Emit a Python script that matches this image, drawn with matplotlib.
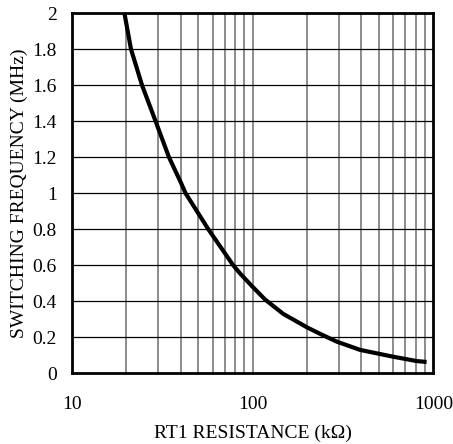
import matplotlib
matplotlib.use("Agg")
import matplotlib.pyplot as plt
from matplotlib.ticker import FixedLocator, NullFormatter, FixedFormatter

plt.rcParams['font.family'] = ['Liberation Serif', 'DejaVu Serif']

# Data (RT1 in kOhm, frequency in MHz)
rt1_kohm = [19.5, 21.2, 24.4, 29.0, 34.4, 40.0, 42.5, 56.8, 78.0, 85.2, 100.0, 117.0,
            147.6, 200.0, 235.0, 292.0, 393.0, 600.0, 808.0, 918.0]
freq_mhz = [2.0, 1.8, 1.6, 1.4, 1.2, 1.06, 1.0, 0.8, 0.6, 0.554, 0.48, 0.41,
            0.33, 0.255, 0.22, 0.176, 0.13, 0.092, 0.068, 0.063]

x_ticks = [10, 100, 1000]
x_tick_labels = ["10", "100", "1000"]
y_ticks = [0, 0.2, 0.4, 0.6, 0.8, 1, 1.2, 1.4, 1.6, 1.8, 2]
y_tick_labels = ["0", "0.2", "0.4", "0.6", "0.8", "1", "1.2", "1.4", "1.6", "1.8", "2"]

fig = plt.figure(figsize=(4.53, 4.44), dpi=100)
ax = fig.add_axes([72/453, 1 - 373.3/444, (433.3 - 72)/453, (373.3 - 13)/444])

ax.set_xscale('log')
ax.set_xlim(10, 1000)
ax.set_ylim(0, 2)

# grid
minor_x = [m * d for d in (10, 100) for m in range(2, 10)] + [100]
for xv in minor_x:
    ax.axvline(xv, color='#6e6e6e', lw=1.1, zorder=1)
for yv in y_ticks[1:-1]:
    ax.axhline(yv, color='black', lw=0.9, zorder=1)

ax.plot(rt1_kohm, freq_mhz, color='black', lw=3.0, solid_capstyle='butt',
        solid_joinstyle='round', zorder=3)

ax.xaxis.set_major_locator(FixedLocator(x_ticks))
ax.xaxis.set_major_formatter(FixedFormatter(x_tick_labels))
ax.xaxis.set_minor_locator(FixedLocator([]))
ax.xaxis.set_minor_formatter(NullFormatter())
ax.yaxis.set_major_locator(FixedLocator(y_ticks))
ax.yaxis.set_major_formatter(FixedFormatter(y_tick_labels))

ax.tick_params(axis='both', which='both', length=0, labelsize=14)
ax.tick_params(axis='x', pad=16)
ax.tick_params(axis='y', pad=11)

for s in ax.spines.values():
    s.set_linewidth(2.0)
    s.set_zorder(4)

ax.set_xlabel("RT1 RESISTANCE (kΩ)", fontsize=14, labelpad=9)
ax.set_ylabel("SWITCHING FREQUENCY (MHz)", fontsize=14, labelpad=3)

fig.savefig("out.png", dpi=100)
